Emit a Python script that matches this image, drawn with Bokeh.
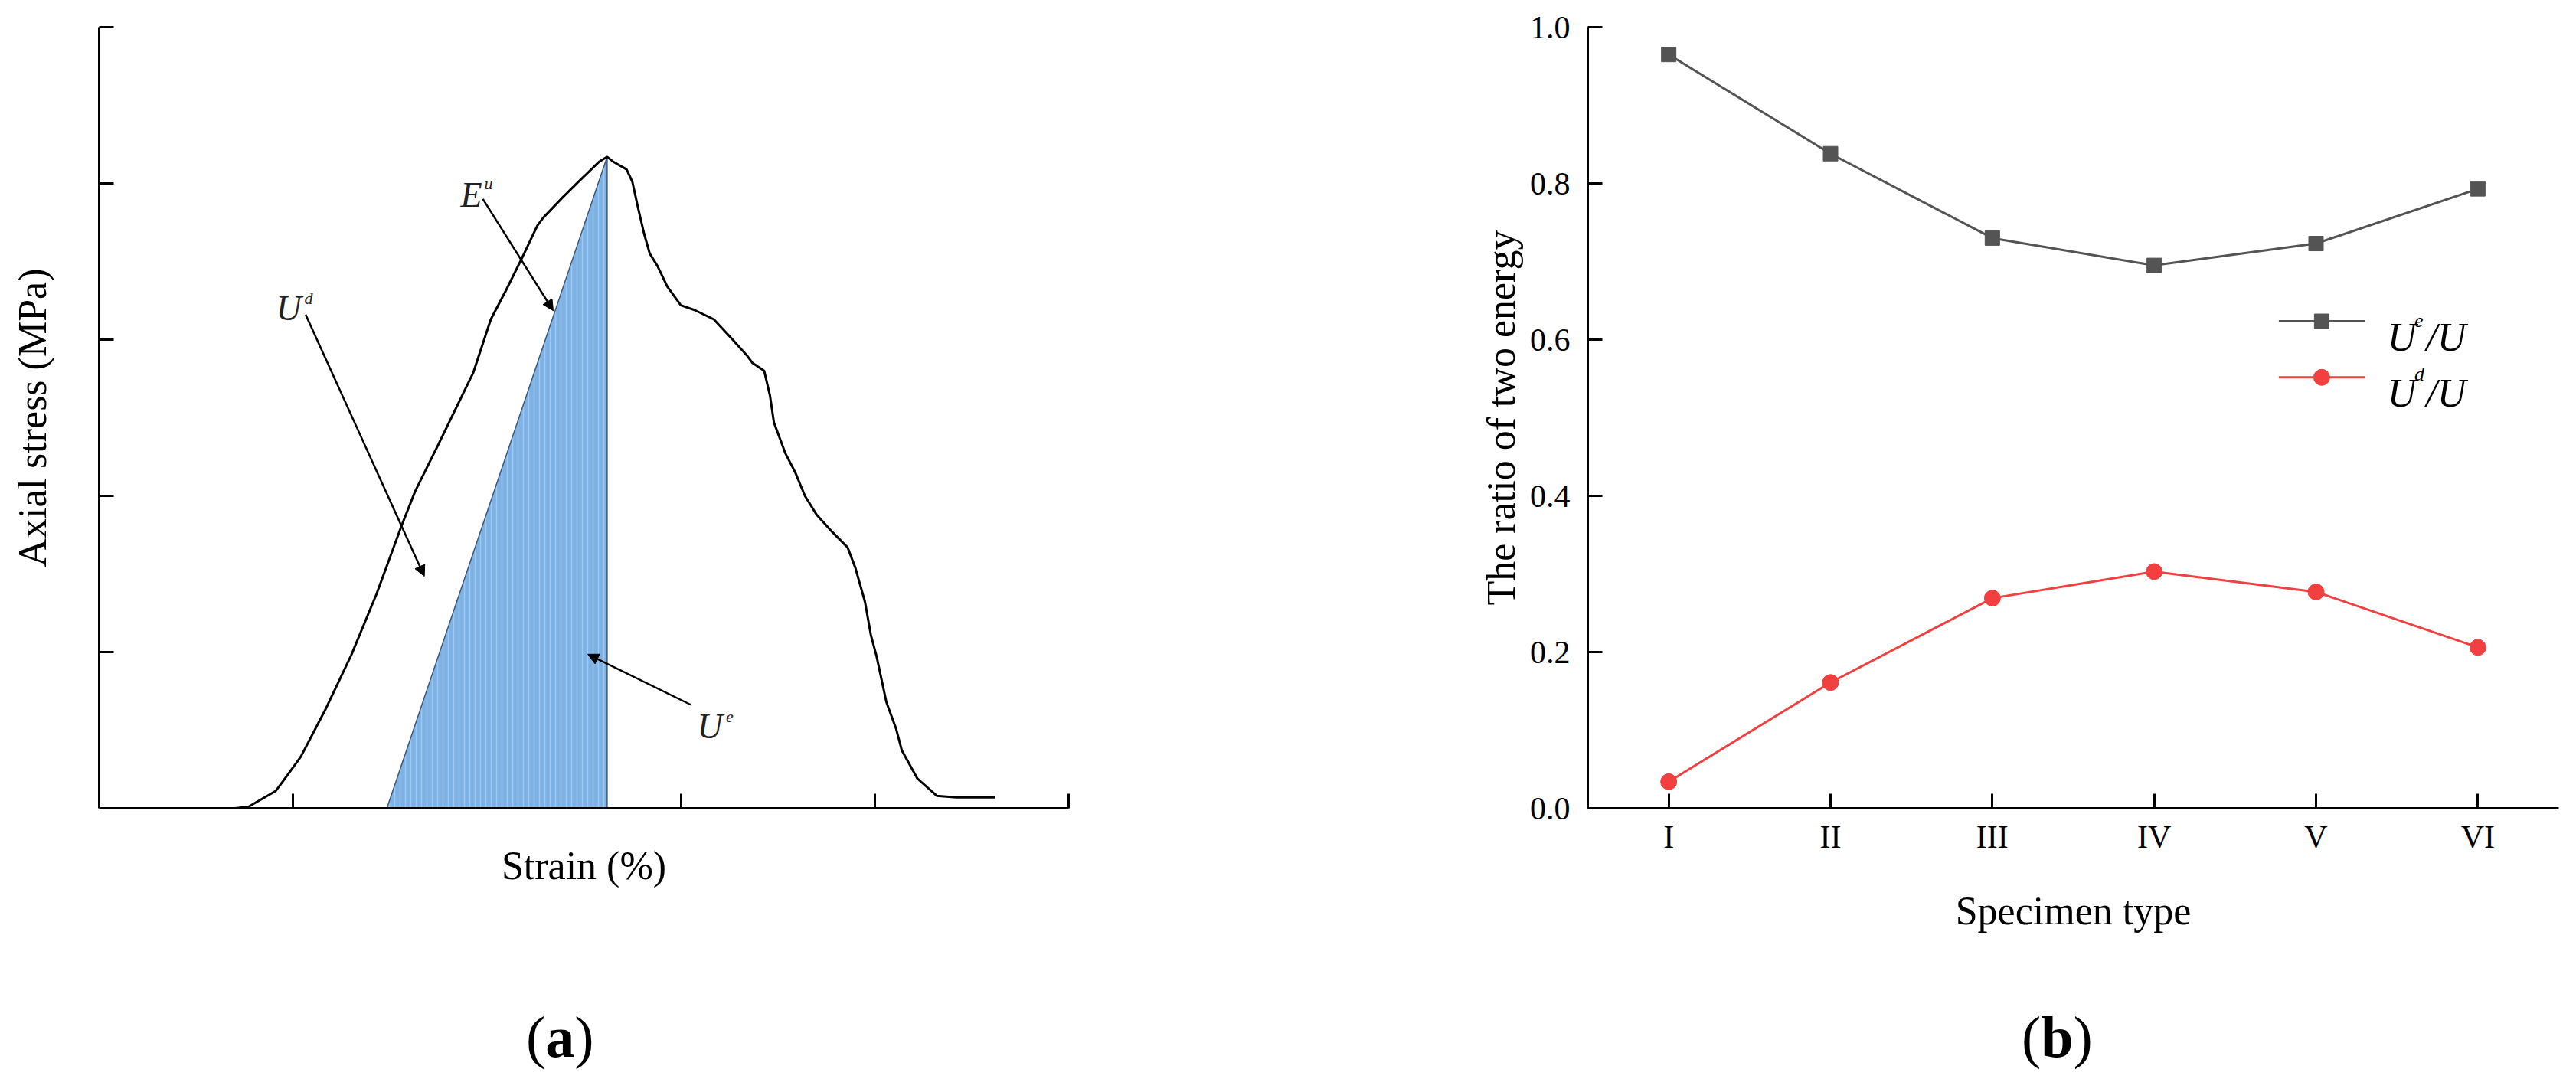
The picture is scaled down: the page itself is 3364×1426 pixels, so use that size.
from bokeh.plotting import figure
from bokeh.layouts import row, column
from bokeh.models import (
    Arrow,
    NormalHead,
    FixedTicker,
    FactorRange,
    Range1d,
    NumeralTickFormatter,
    Div,
)
from bokeh.core.properties import value
from bokeh.embed import file_html
from bokeh.resources import INLINE

SERIF = "Liberation Serif"

# (a) stress-strain curve (axes carry no numbers in the original)
strain = [0.70, 0.77, 0.84, 0.91, 0.97, 1.04, 1.17, 1.30, 1.43, 1.56, 1.63,
          1.75, 1.93, 2.02, 2.10, 2.18, 2.26, 2.29, 2.39, 2.48, 2.58, 2.62,
          2.65, 2.72, 2.75, 2.78, 2.81, 2.84, 2.88, 2.93, 3.00, 3.07, 3.17,
          3.26, 3.34, 3.37, 3.43, 3.46, 3.48, 3.54, 3.59, 3.64, 3.70, 3.78,
          3.86, 3.90, 3.95, 3.98, 4.01, 4.06, 4.11, 4.14, 4.22, 4.32, 4.42,
          4.52, 4.62]
stress = [0.00, 0.01, 0.06, 0.11, 0.21, 0.33, 0.64, 0.98, 1.37, 1.81, 2.03,
          2.33, 2.79, 3.13, 3.32, 3.52, 3.73, 3.78, 3.91, 4.02, 4.14, 4.17,
          4.14, 4.09, 4.01, 3.84, 3.68, 3.55, 3.47, 3.34, 3.22, 3.19, 3.13,
          3.01, 2.90, 2.85, 2.80, 2.64, 2.47, 2.27, 2.15, 2.00, 1.88, 1.77,
          1.67, 1.54, 1.32, 1.11, 0.97, 0.68, 0.51, 0.37, 0.19, 0.08, 0.07,
          0.07, 0.07]
unload_start = 1.484  # strain where the unloading line reaches zero stress

# (b) ratio of the two energies per specimen type
specimens = ["I", "II", "III", "IV", "V", "VI"]
elastic_ratio = [0.965, 0.838, 0.730, 0.695, 0.723, 0.793]
dissipated_ratio = [0.034, 0.161, 0.269, 0.303, 0.277, 0.206]

gray = "#545454"
red = "#f23f3f"

W, H = 1674, 1270
CAP_H = 140


def style_axes(p):
    for ax in p.axis:
        ax.axis_line_width = 3
        ax.axis_line_color = "black"
        ax.major_tick_line_width = 3
        ax.major_tick_line_color = "black"
        ax.major_tick_in = 19
        ax.major_tick_out = 0
        ax.minor_tick_line_color = None
        ax.axis_label_text_font = SERIF
        ax.axis_label_text_font_size = "52px"
        ax.axis_label_text_font_style = "normal"
        ax.axis_label_text_color = "black"
        ax.major_label_text_font = SERIF
        ax.major_label_text_font_size = "42px"
        ax.major_label_text_color = "black"
    p.grid.grid_line_color = None
    p.outline_line_color = None


def caption(letter, left):
    html = (
        '<div style="position:absolute; left:%dpx; top:41px; '
        "font-family:'Liberation Serif'; font-size:76px; line-height:76px; "
        'color:black; white-space:nowrap;">(<b>%s</b>)</div>' % (left, letter)
    )
    return Div(text=html, width=W, height=CAP_H,
               styles={"position": "relative", "overflow": "visible"})


# ---------------- (a) ----------------
p1 = figure(
    width=W, height=H,
    x_range=Range1d(0, 5), y_range=Range1d(0, 5),
    toolbar_location=None, output_backend="svg",
    min_border_left=129, min_border_right=279,
    min_border_top=35, min_border_bottom=H - 1055,
)
style_axes(p1)
p1.xaxis.ticker = FixedTicker(ticks=[1, 3, 4, 5])
p1.yaxis.ticker = FixedTicker(ticks=[1, 2, 3, 4, 5])
p1.xaxis.major_label_overrides = {t: "" for t in [1, 3, 4, 5]}
p1.yaxis.major_label_overrides = {t: "" for t in [1, 2, 3, 4, 5]}
p1.axis.major_label_standoff = 0
p1.xaxis.axis_label = "Strain (%)"
p1.yaxis.axis_label = "Axial stress (MPa)"
p1.xaxis.axis_label_standoff = 46
p1.yaxis.axis_label_standoff = 59

peak = stress.index(max(stress))
p1.patch(
    [unload_start, strain[peak], strain[peak]], [0, stress[peak], 0],
    fill_color="#7eb1e4", line_color="#3b5878", line_width=1.5,
    hatch_pattern="vertical_line", hatch_color="#9fc9f1",
    hatch_scale=7, hatch_weight=1.5,
)
p1.line(strain, stress, line_color="black", line_width=3)

# annotation arrows
for xs, ys, xe, ye in [
    (1.065, 3.16, 1.677, 1.485),
    (1.979, 3.90, 2.342, 3.185),
    (3.051, 0.663, 2.520, 0.986),
]:
    p1.add_layout(Arrow(
        end=NormalHead(size=14, fill_color="black", line_color="black"),
        x_start=xs, y_start=ys, x_end=xe, y_end=ye,
        line_color="black", line_width=2.5,
    ))

p1.text(
    x=[0.912, 1.864, 3.085], y=[3.20, 3.926, 0.524],
    text=["U", "E", "U"],
    text_font=value(SERIF), text_font_style="italic",
    text_font_size=value("46px"), text_color="#222222",
    text_baseline="alphabetic", text_align="left",
)
p1.text(
    x=[1.058, 1.987, 3.233], y=[3.265, 4.0, 0.588],
    text=["d", "u", "e"],
    text_font=value(SERIF), text_font_style="italic",
    text_font_size=value("22px"), text_color="#222222",
    text_baseline="alphabetic", text_align="left",
)

# ---------------- (b) ----------------
p2 = figure(
    width=W, height=H,
    x_range=FactorRange(factors=specimens), y_range=Range1d(0, 1),
    toolbar_location=None, output_backend="svg",
    min_border_left=399, min_border_right=7,
    min_border_top=35, min_border_bottom=H - 1055,
)
style_axes(p2)
p2.yaxis.ticker = FixedTicker(ticks=[0, 0.2, 0.4, 0.6, 0.8, 1.0])
p2.yaxis.formatter = NumeralTickFormatter(format="0.0")
p2.yaxis.major_label_standoff = 23
p2.xaxis.major_label_standoff = 14
p2.xaxis.axis_label = "Specimen type"
p2.yaxis.axis_label = "The ratio of two energy"
p2.xaxis.axis_label_standoff = 42
p2.yaxis.axis_label_standoff = 6

p2.line(specimens, elastic_ratio, line_color=gray, line_width=3)
p2.scatter(specimens, elastic_ratio, marker="square", size=19, color=gray)
p2.line(specimens, dissipated_ratio, line_color=red, line_width=3)
p2.scatter(specimens, dissipated_ratio, marker="circle", size=21, color=red)

# legend drawn by hand so the superscripts can be set
p2.line([4.270, 4.802], [0.6235, 0.6235], line_color=gray, line_width=3)
p2.scatter([4.535], [0.6235], marker="square", size=19, color=gray)
p2.line([4.270, 4.802], [0.5517, 0.5517], line_color=red, line_width=3)
p2.scatter([4.535], [0.5517], marker="circle", size=21, color=red)
p2.text(
    x=[4.941, 5.180, 4.941, 5.180], y=[0.603, 0.603, 0.531, 0.531],
    text=["U", "/U", "U", "/U"],
    text_font=value(SERIF), text_font_style="italic",
    text_font_size=value("52px"), text_color="black",
    text_baseline="alphabetic", text_align="left",
)
p2.text(
    x=[5.108, 5.108], y=[0.625, 0.556],
    text=["e", "d"],
    text_font=value(SERIF), text_font_style="italic",
    text_font_size=value("26px"), text_color="black",
    text_baseline="alphabetic", text_align="left",
)

layout = column(
    row(p1, p2),
    row(caption("a", 682), caption("b", 951)),
)
open("out.html", "w").write(file_html(layout, INLINE))
